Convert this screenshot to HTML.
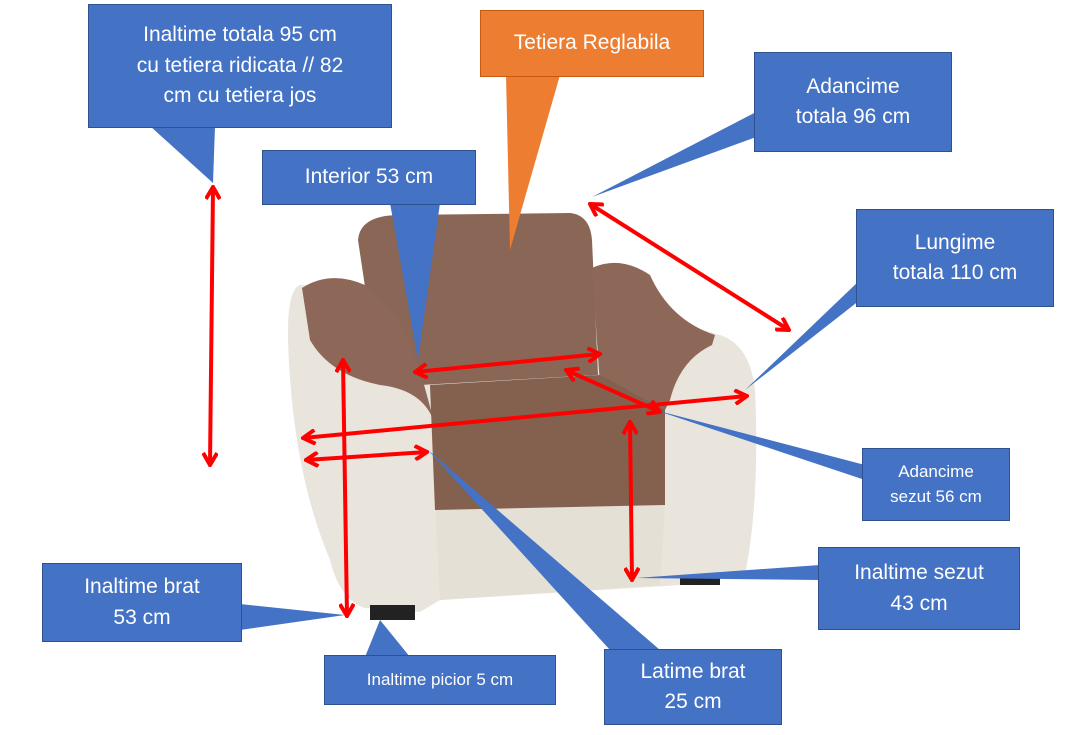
<!DOCTYPE html>
<html><head><meta charset="utf-8"><style>
body{margin:0;width:1092px;height:735px;background:#fff;overflow:hidden;font-family:"Liberation Sans",sans-serif}
svg{position:absolute;left:0;top:0}
.b{position:absolute;background:#4472C4;border:1.5px solid #2F528F;color:#fff;text-align:center;box-sizing:border-box;display:flex;align-items:center;justify-content:center;line-height:1.45}
</style></head><body>
<svg width="1092" height="735" viewBox="0 0 1092 735">
<defs><marker id="a" markerWidth="8" markerHeight="8" refX="6" refY="4" orient="auto-start-reverse" markerUnits="userSpaceOnUse" viewBox="0 0 8 8"><path d="M0,0 L6,4 L0,8" fill="none" stroke="#f00" stroke-width="1.6"/></marker>
<marker id="m" markerWidth="16" markerHeight="16" refX="14" refY="8" orient="auto-start-reverse" markerUnits="userSpaceOnUse"><path d="M2,1 L14,8 L2,15" fill="none" stroke="#f00" stroke-width="4"/></marker></defs>
<!-- chair -->
<path d="M300,285 Q287,290 288,340 Q292,470 330,560 Q340,600 365,608 L420,612 L440,600 L680,585 L745,575 Q760,500 755,390 Q750,345 720,335 L600,300 Z" fill="#E9E4DC"/>
<path d="M435,500 L665,505 L660,585 L440,600 Z" fill="#E5E0D6"/>
<path d="M358,240 Q360,215 400,215 L570,213 Q590,215 592,240 L598,375 L420,385 Q380,370 370,320 Z" fill="#8A6656"/>
<path d="M302,288 Q330,270 365,285 Q400,310 420,370 L435,425 Q425,390 380,385 Q330,375 310,340 Z" fill="#8D6858"/>
<path d="M592,268 Q620,255 650,275 Q670,320 715,335 L712,345 Q680,360 670,400 L660,420 L600,385 Z" fill="#8D6858"/>
<path d="M430,385 L600,375 L665,410 L665,505 L435,510 Z" fill="#84604F"/>
<rect x="370" y="605" width="45" height="15" fill="#222"/>
<rect x="680" y="576" width="40" height="9" fill="#222"/>
<!-- pointers -->
<polygon points="150,126 213,183 215,126" fill="#4472C4"/>
<polygon points="506,75 510,250 560,75" fill="#ED7D31"/>
<polygon points="760,110 592,197 770,132" fill="#4472C4"/>
<polygon points="390,203 418,360 440,203" fill="#4472C4"/>
<polygon points="860,280 745,390 860,300" fill="#4472C4"/>
<polygon points="865,465 655,410 865,480" fill="#4472C4"/>
<polygon points="820,565 636,578 820,580" fill="#4472C4"/>
<polygon points="240,604 345,615 240,630" fill="#4472C4"/>
<polygon points="365,657 380,620 410,657" fill="#4472C4"/>
<polygon points="610,650 428,450 660,650" fill="#4472C4"/>
<!-- arrows -->
<g stroke="#f00" stroke-width="4" fill="none" marker-start="url(#m)" marker-end="url(#m)">
<line x1="213" y1="187" x2="210" y2="465"/>
<line x1="343" y1="360" x2="347" y2="616"/>
<line x1="415" y1="372" x2="600" y2="354"/>
<line x1="590" y1="204" x2="789" y2="330"/>
<line x1="566" y1="370" x2="660" y2="412"/>
<line x1="303" y1="438" x2="747" y2="396"/>
<line x1="306" y1="460" x2="427" y2="452"/>
<line x1="630" y1="422" x2="632" y2="580"/>
</g>
</svg>
<div class="b" style="left:88px;top:4px;width:304px;height:124px;font-size:21px">Inaltime totala 95 cm<br>cu tetiera ridicata // 82<br>cm cu tetiera jos</div>
<div class="b" style="left:480px;top:10px;width:224px;height:67px;font-size:21px;background:#ED7D31;border-color:#C55A11">Tetiera Reglabila</div>
<div class="b" style="left:754px;top:52px;width:198px;height:100px;font-size:21px">Adancime<br>totala 96 cm</div>
<div class="b" style="left:262px;top:150px;width:214px;height:55px;font-size:21px">Interior 53 cm</div>
<div class="b" style="left:856px;top:209px;width:198px;height:98px;font-size:21px">Lungime<br>totala 110 cm</div>
<div class="b" style="left:862px;top:448px;width:148px;height:73px;font-size:17px">Adancime<br>sezut 56 cm</div>
<div class="b" style="left:818px;top:547px;width:202px;height:83px;font-size:21px">Inaltime sezut<br>43 cm</div>
<div class="b" style="left:42px;top:563px;width:200px;height:79px;font-size:21px">Inaltime brat<br>53 cm</div>
<div class="b" style="left:324px;top:655px;width:232px;height:50px;font-size:17px">Inaltime picior 5 cm</div>
<div class="b" style="left:604px;top:649px;width:178px;height:76px;font-size:21px">Latime brat<br>25 cm</div>
</body></html>
